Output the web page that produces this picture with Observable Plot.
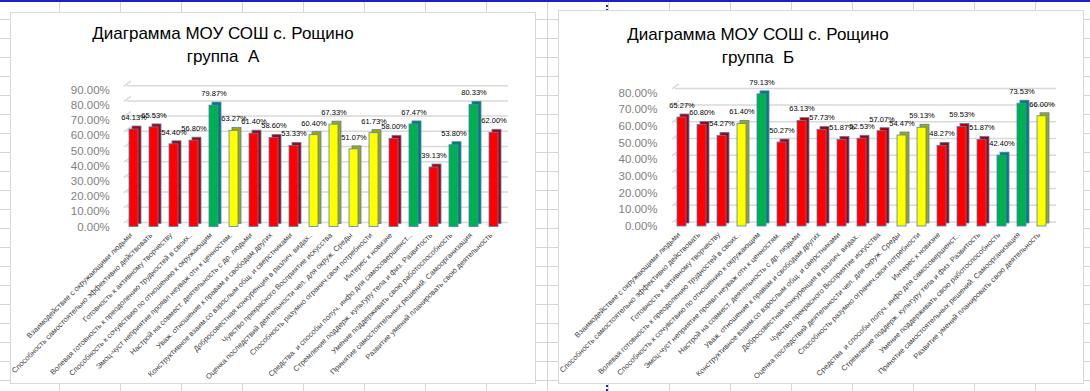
<!DOCTYPE html>
<html><head><meta charset="utf-8">
<script src="https://cdn.jsdelivr.net/npm/d3@7"></script>
<script src="https://cdn.jsdelivr.net/npm/@observablehq/plot@0.6"></script>
<style>
body{margin:0;width:1090px;height:391px;overflow:hidden;background:#fff;position:relative;font-family:"Liberation Sans",Arial,sans-serif;}
#sheet{position:absolute;left:0;top:0;width:1090px;height:391px;
 background-image:linear-gradient(to right,#d6d6d6 1px,transparent 1px),linear-gradient(to bottom,#d6d6d6 1px,transparent 1px);
 background-size:61px 19px;background-position:59px 19px;}
#topline{position:absolute;left:0;top:0;width:1090px;height:2px;background:#1e1ecc;}
#vline{position:absolute;left:606px;top:0;height:391px;width:0;border-left:2px dotted #1e1ecc;}
.chart{position:absolute;background:#fff;border:1px solid #d9d9d9;box-sizing:border-box;}
.chart svg{position:absolute;left:0;}
.title{position:absolute;width:300px;font-size:17px;color:#000;text-align:center;line-height:23px;white-space:pre;}
</style></head>
<body>
<div id="sheet"></div>
<div id="topline"></div>
<div id="vline"></div>
<div class="chart" id="chartA" style="left:10px;top:12px;width:526px;height:372px;">
  <div class="title" style="left:62px;top:9px;"></div>
</div>
<div class="chart" id="chartB" style="left:558px;top:10px;width:526px;height:374px;">
  <div class="title" style="left:49px;top:12px;"></div>
</div>
<script>
const categories = [
 "Взаимодействие с окружающими людьми",
 "Способность самостоятельно эффективно действовать",
 "Готовность к активному творчеству",
 "Волевая готовность к преодолению трудностей в своих..",
 "Способность к сочувствию по отношению к окружающим",
 "Эмоц-чуст неприятие проявл неуваж отн к ценностям.",
 "Настрой на совмест. деятельность с др. людьми",
 "Уваж. отношение к правам и свободам других",
 "Конструктивное взаим.со взрослым общ. и сверстниками",
 "Добросовестная конкуренция в различ. видах..",
 "Чувство прекрасного Восприятие искусства",
 "Оценка последствий деятельности чел. для окруж. Среды",
 "Способность разумно огранич.свои потребности",
 "Интерес к новизне",
 "Средства  и способы получ. инфо для самосовершенст...",
 "Стремление поддерж. культуру тела и физ. Развитость",
 "Умение поддерживать свою работоспособность",
 "Принятие самостоятельных решений. Самоорганизация",
 "Развитие умений планировать свою деятельность"
];
const titleLine1 = "Диаграмма МОУ СОШ с. Рощино";
const titleA = "группа  А";
const titleB = "группа  Б";
const valuesA = [64.13,65.53,54.40,56.80,79.87,63.27,61.40,58.60,53.33,60.40,67.33,51.07,61.73,58.00,67.47,39.13,53.80,80.33,62.00];
const levelsA = ["R","R","R","R","G","Y","R","R","R","Y","Y","Y","Y","R","G","R","G","G","R"];
const valuesB = [65.27,60.80,54.27,61.40,79.13,50.27,63.13,57.73,51.87,52.53,57.07,54.47,59.13,48.27,59.53,51.87,42.40,73.53,66.00];
const levelsB = ["R","R","R","Y","G","R","R","R","R","R","R","Y","Y","R","R","R","G","G","Y"];
const ticksA = [0,10,20,30,40,50,60,70,80,90];
const ticksB = [0,10,20,30,40,50,60,70,80];

const front = {R:"#ff0000", G:"#00b050", Y:"#ffff00"};
const side = {R:"#b00000", G:"#00806a", Y:"#a6a600"};
const edge = "#4f81bd";

function chart(values, levels, ticks, maxY, m) {
  const data = categories.map((c,i)=>({c, v: values[i], g: levels[i]}));
  return Plot.plot({
    width: 524, height: 322,
    marginLeft: m.ml, marginRight: m.mr, marginTop: m.mt, marginBottom: m.mb,
    style: {fontFamily: "Liberation Sans, Arial, sans-serif", background: "transparent", overflow: "visible"},
    x: {domain: categories, paddingInner: 0.55, paddingOuter: 0.275, label: null},
    y: {domain: [0, maxY], label: null},
    color: {type: "identity"},
    marks: [
      Plot.ruleY(ticks, {stroke: "#d9d9d9", strokeWidth: 1.5, dx: 4, dy: -4.5,
        render(index, scales, values, dim, ctx, next) {
          const g = next(index, scales, values, dim, ctx);
          const ns = "http://www.w3.org/2000/svg";
          for (const t of ticks) {
            const y = scales.y(t);
            const l = document.createElementNS(ns, "line");
            l.setAttribute("x1", dim.marginLeft - 3); l.setAttribute("y1", y + 0.5);
            l.setAttribute("x2", dim.marginLeft + 4); l.setAttribute("y2", y - 4.5);
            l.setAttribute("stroke", "#d9d9d9"); l.setAttribute("stroke-width", 1.5);
            g.appendChild(l);
          }
          return g;
        }}),
      Plot.axisY({ticks, tickSize: 0, tickPadding: m.tp, tickFormat: d => d.toFixed(2) + "%", fontSize: 11.5, fill: "#7f7f7f", label: null}),
      Plot.axisX({tickSize: 0, tickRotate: -45, fontSize: 7.5, tickPadding: 7, dx: -3, fill: "#404040", label: null}),
      Plot.barY(data, {x: "c", y: "v", fill: d => side[d.g], stroke: edge, strokeWidth: 0.8, dx: 3, dy: -3}),
      Plot.barY(data, {x: "c", y: "v", fill: d => front[d.g], stroke: edge, strokeWidth: 0.8}),
      Plot.text(data, {x: "c", y: "v", text: d => d.v.toFixed(2) + "%", dy: -12, fontSize: 7.5, fill: "#000"})
    ]
  });
}

const A = document.getElementById("chartA");
A.querySelector(".title").textContent = titleLine1 + "\n" + titleA;
const svgA = chart(valuesA, levelsA, ticksA, 90, {ml: 111.8, mr: 31, mt: 29.7, mb: 155.5, tp: 13.5});
svgA.style.top = "47px";
A.appendChild(svgA);

const B = document.getElementById("chartB");
B.querySelector(".title").textContent = titleLine1 + "\n" + titleB;
const svgB = chart(valuesB, levelsB, ticksB, 80, {ml: 112, mr: 31, mt: 32.4, mb: 156, tp: 14});
svgB.style.top = "49px";
B.appendChild(svgB);
</script>
</body></html>
